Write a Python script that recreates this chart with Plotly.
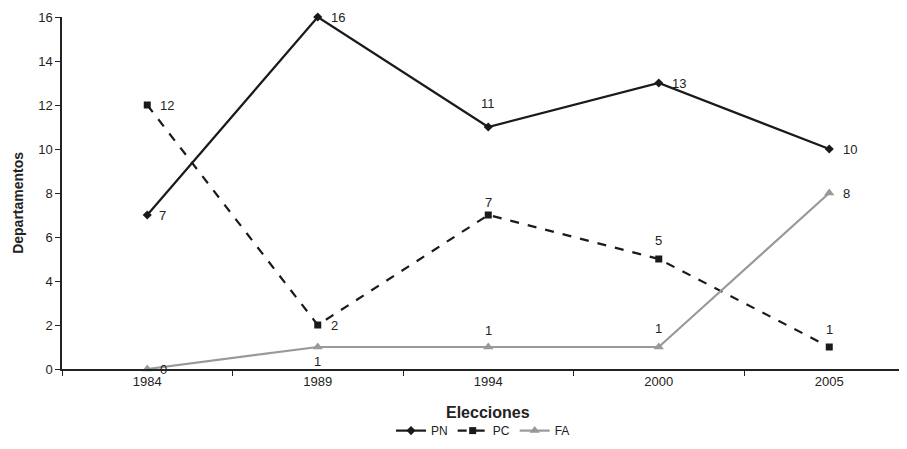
import plotly.graph_objects as go

years = ["1984", "1989", "1994", "2000", "2005"]
pn = [7, 16, 11, 13, 10]
pc = [12, 2, 7, 5, 1]
fa = [0, 1, 1, 1, 8]

# label placement: ("r", px) right of point, ("t", px) above, ("b", px) below
pn_pos = [("r", 10), ("r", 11), ("t", 24), ("r", 11), ("r", 12)]
pc_pos = [("r", 11), ("r", 11), ("t", 13), ("t", 19), ("t", 18)]
fa_pos = [("r", 11), ("b", 14), ("t", 17), ("t", 19), ("r", 12)]

font = "Liberation Sans, Arial, sans-serif"
fig = go.Figure()
fig.add_trace(go.Scatter(
    x=years, y=pn, name="PN", mode="lines+markers",
    line=dict(color="#1a1a1a", width=2.2),
    marker=dict(symbol="diamond", size=7, color="#1a1a1a"), cliponaxis=False))
fig.add_trace(go.Scatter(
    x=years, y=pc, name="PC", mode="lines+markers",
    line=dict(color="#1a1a1a", width=2.2, dash="dash"),
    marker=dict(symbol="square", size=7, color="#1a1a1a"), cliponaxis=False))
fig.add_trace(go.Scatter(
    x=years, y=fa, name="FA", mode="lines+markers",
    line=dict(color="#999999", width=2.2),
    marker=dict(symbol="triangle-up", size=9, color="#999999"), cliponaxis=False))

for vals, poss in ((pn, pn_pos), (pc, pc_pos), (fa, fa_pos)):
    for i, (v, (p, d)) in enumerate(zip(vals, poss)):
        if p == "r":
            kw = dict(xanchor="left", xshift=d, yshift=0)
        elif p == "t":
            kw = dict(xanchor="center", xshift=0, yshift=d)
        else:
            kw = dict(xanchor="center", xshift=0, yshift=-d)
        fig.add_annotation(x=i, y=v, xref="x", yref="y", text=str(v), showarrow=False,
                           font=dict(family=font, size=13, color="#222"), **kw)

# axis titles
fig.add_annotation(x=0.509, y=-0.123, xref="paper", yref="paper", yanchor="middle",
                   text="<b>Elecciones</b>", showarrow=False,
                   font=dict(family=font, size=16, color="#222"))
fig.add_annotation(x=-0.0526, y=0.472, xref="paper", yref="paper", xanchor="center",
                   yanchor="middle", textangle=-90,
                   text="<b>Departamentos</b>", showarrow=False,
                   font=dict(family=font, size=14, color="#222"))

fig.update_layout(
    width=891, height=433,
    margin=dict(l=54, r=0, t=9, b=72),
    paper_bgcolor="white", plot_bgcolor="white",
    font=dict(family=font, size=12, color="#222"),
    showlegend=True,
    legend=dict(orientation="h", x=0.503, xanchor="center", yref="container",
                y=0.024, yanchor="middle",
                font=dict(family=font, size=12), itemwidth=30,
                tracegroupgap=0),
    xaxis=dict(type="category", range=[-0.5, 4.409], showline=True, linecolor="#222",
               linewidth=1.5, ticks="outside", tickson="boundaries", ticklen=5,
               tickcolor="#222", showgrid=False, zeroline=False, automargin=False,
               tickfont=dict(family=font, size=13)),
    yaxis=dict(range=[0, 16], dtick=2, showline=True, linecolor="#222", linewidth=1.5,
               ticks="outside", ticklen=5, tickcolor="#222", showgrid=False, zeroline=False,
               automargin=False, tickfont=dict(family=font, size=13)),
)
fig.write_html("out.html")
